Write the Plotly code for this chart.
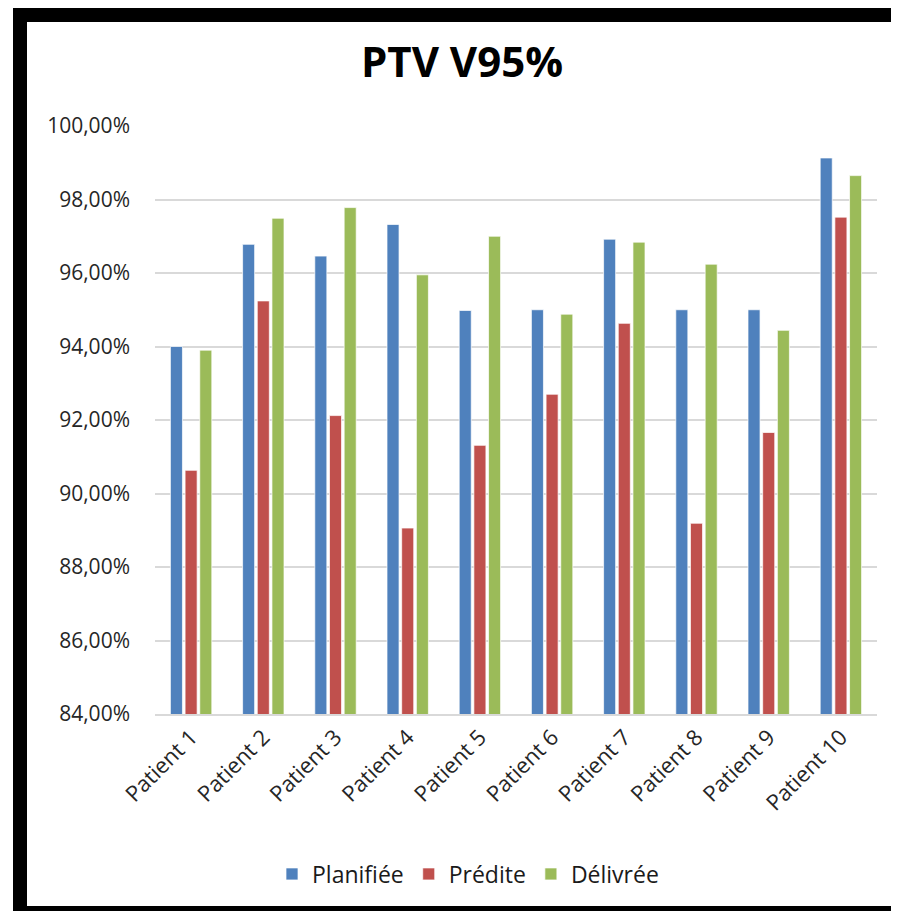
import plotly.graph_objects as go

categories = ["Patient 1", "Patient 2", "Patient 3", "Patient 4", "Patient 5",
              "Patient 6", "Patient 7", "Patient 8", "Patient 9", "Patient 10"]
planifiee = [94.00, 96.78, 96.46, 97.32, 94.98, 95.00, 96.92, 95.00, 95.00, 99.13]
predite = [90.63, 95.24, 92.12, 89.06, 91.31, 92.70, 94.63, 89.19, 91.66, 97.52]
delivree = [93.90, 97.49, 97.78, 95.95, 97.00, 94.88, 96.84, 96.24, 94.44, 98.65]
series_names = ["Planifiée", "Prédite", "Délivrée"]
colors = ["#4F81BD", "#C0504D", "#9BBB59"]
y_ticks = [84, 86, 88, 90, 92, 94, 96, 98, 100]
y_tick_labels = ["84,00%", "86,00%", "88,00%", "90,00%", "92,00%",
                 "94,00%", "96,00%", "98,00%", "100,00%"]

# The page keeps its default 8px body margin; the figure is sized so the page
# never overflows (no scrollbars). Coordinates below are page pixels.
OFF = 8
W, H = 899 - 2 * OFF, 919 - 2 * OFF
L, T = 155 - OFF, 126 - OFF
R = W - (877 - OFF)
B = H - (714 - OFF)
PW, PH = W - L - R, H - T - B


def px2x(px):  # page px -> paper x
    return (px - OFF - L) / PW


def py2y(py):  # page px -> paper y
    return (H - B - (py - OFF)) / PH


FONT = "Open Sans"

fig = go.Figure()
for name, vals, col in zip(series_names, [planifiee, predite, delivree], colors):
    fig.add_trace(go.Bar(
        x=categories, y=vals, name=name,
        marker=dict(color=col, line=dict(color="rgba(255,255,255,0.7)", width=1)),
    ))

# black frame (left, top, bottom bands; right side is cut off in the original)
frame = [(13, 8, 27, 919), (13, 8, 899, 22), (13, 906, 899, 919)]
for x0, y0, x1, y1 in frame:
    fig.add_shape(type="rect", xref="paper", yref="paper",
                  x0=px2x(x0), x1=px2x(x1), y0=py2y(y1), y1=py2y(y0),
                  line=dict(width=0), fillcolor="black", layer="above")

fig.update_layout(
    width=W, height=H,
    margin=dict(l=L, r=R, t=T, b=B, pad=0),
    paper_bgcolor="white", plot_bgcolor="rgba(0,0,0,0)",
    barmode="group", bargap=0.39, bargroupgap=0.18,
    title=dict(text="<b>PTV V95%</b>", font=dict(family=FONT, size=42, color="black"),
               x=(462 - OFF) / W, xref="container", xanchor="center",
               y=1 - (62 - OFF) / H, yref="container", yanchor="middle"),
    font=dict(family=FONT, size=21, color="#262626"),
    legend=dict(orientation="h", xref="container", yref="container",
                x=(468 - OFF) / W, xanchor="center", y=1 - (874 - OFF) / H, yanchor="middle",
                font=dict(family=FONT, size=23, color="#1a1a1a"),
                itemwidth=30, traceorder="normal"),
    showlegend=True,
)
fig.update_xaxes(tickangle=-45, showgrid=False, showline=True, linecolor="#D9D9D9",
                 linewidth=1.5, ticks="", tickfont=dict(family=FONT, size=22, color="#262626"))
fig.update_yaxes(range=[84, 100], tickvals=y_ticks, ticktext=y_tick_labels,
                 showgrid=True, gridcolor="#D9D9D9", gridwidth=1.5, zeroline=False,
                 showline=False, ticks="", ticklabelstandoff=24,
                 tickfont=dict(family=FONT, size=21, color="#262626"))

fig.write_html("out.html", config={"displayModeBar": False})
